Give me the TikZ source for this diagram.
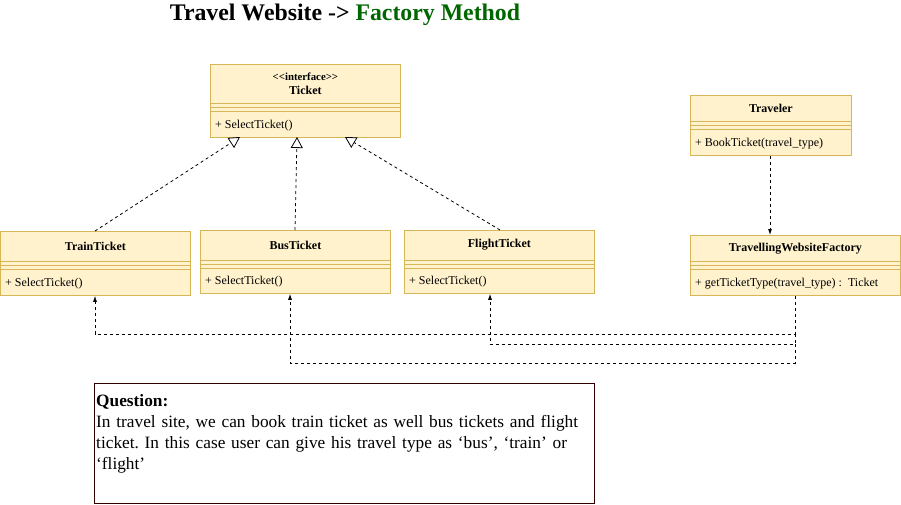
\documentclass[tikz,border=0pt]{standalone}
\usepackage{fontspec}
\setmainfont{Liberation Serif}
\usetikzlibrary{arrows.meta}
\definecolor{clsfill}{HTML}{FFF2CC}
\definecolor{clsdraw}{HTML}{D6B656}
\definecolor{titlegreen}{HTML}{006600}
\definecolor{qdraw}{HTML}{330000}
\tikzset{
  cls/.style={draw=clsdraw, fill=clsfill, line width=0.8pt, rectangle, inner sep=0pt},
  clsline/.style={draw=clsdraw, line width=0.8pt},
  clstitle/.style={font=\fontsize{12}{14}\selectfont\bfseries, inner sep=0pt, align=center},
  clsmeth/.style={font=\fontsize{12}{14}\selectfont, inner sep=0pt, anchor=west},
  dep/.style={draw=black, line width=0.8pt, dash pattern=on 3pt off 3pt, -{Latex[length=6pt,width=4pt]}},
  real/.style={draw=black, line width=0.8pt, dash pattern=on 3pt off 3pt, -{Triangle[open,length=11pt,width=12pt,fill=white]}},
}
\newcommand\umlbox[8]{%
  \node[cls, minimum width=#4pt, minimum height=#5pt, anchor=north west] (#1) at (#2,#3) {};
  \draw[clsline] ([yshift=-#6pt]#1.north west) -- ([yshift=-#6pt]#1.north east);
  \draw[clsline] ([yshift=-#6pt-4pt]#1.north west) -- ([yshift=-#6pt-4pt]#1.north east);
  \draw[clsline] ([yshift=-#6pt-8pt]#1.north west) -- ([yshift=-#6pt-8pt]#1.north east);
  \node[clstitle] (#1-t) at ([yshift=-#6pt/2]#1.north) {#7};
  \path ([yshift=-#6pt-8pt]#1.north west) -- (#1.south west) coordinate[pos=0.5] (#1-m);
  \node[clsmeth] (#1-mt) at ([xshift=5pt,yshift=-1pt]#1-m) {#8};
}
\begin{document}
\begin{tikzpicture}[x=1pt,y=-1pt]
\useasboundingbox (0,0) rectangle (901,505);
\fill[white] (0,0) rectangle (901,505);

\node[font=\fontsize{23.8}{27}\selectfont\bfseries, inner sep=0pt] (title) at (345,15)
  {Travel Website -> \textcolor{titlegreen}{Factory Method}};

\umlbox{ticket}{210}{64}{190}{73}{39}{{\fontsize{10.8}{12}\selectfont{<}{<}interface{>}{>}}\\[0pt]Ticket}{+ SelectTicket()}
\umlbox{train}{0}{231}{190}{64}{30}{TrainTicket}{+ SelectTicket()}
\umlbox{bus}{200}{230}{190}{63}{30}{BusTicket}{+ SelectTicket()}
\umlbox{flight}{404}{230}{190}{63}{30}{FlightTicket}{+ SelectTicket()}
\umlbox{traveler}{690}{95}{161}{60}{26.5}{Traveler}{+ BookTicket(travel\_type)}
\umlbox{factory}{690}{235}{210}{60}{26.5}{TravellingWebsiteFactory}{+ getTicketType(travel\_type) :\ \ Ticket}

% realization arrows
\coordinate (tA) at (240,137);
\coordinate (tB) at (297,137);
\coordinate (tC) at (345,137);
\draw[real] (train.north -| 95,0) -- (tA);
\draw[real] (bus.north -| 295,0) -- (tB);
\draw[real] (flight.north -| 500,0) -- (tC);

% traveler -> factory
\draw[dep] (traveler.south -| 770,0) -- (factory.north -| 770,0);

% factory -> tickets
\draw[dep] (factory.south -| 795,0) |- (95,334) -- (train.south -| 95,0);
\draw[dep] (795,334) |- (490,344) -- (flight.south -| 490,0);
\draw[dep] (795,344) |- (290,363) -- (bus.south -| 290,0);

% question box
\node[draw=qdraw, line width=0.8pt, minimum width=500pt, minimum height=120pt, anchor=north west, inner sep=0pt] (q) at (94,383) {};
\node[anchor=north west, inner sep=0pt, align=left, text width=495pt, font=\fontsize{17.3}{21}\selectfont] (qt) at (96,394.5)
  {\frenchspacing\textbf{Question:}\\In travel site, we can book train ticket as well bus tickets and flight\\ticket. In this case user can give his travel type as ‘bus’, ‘train’ or\\‘flight’};
\end{tikzpicture}
\end{document}
